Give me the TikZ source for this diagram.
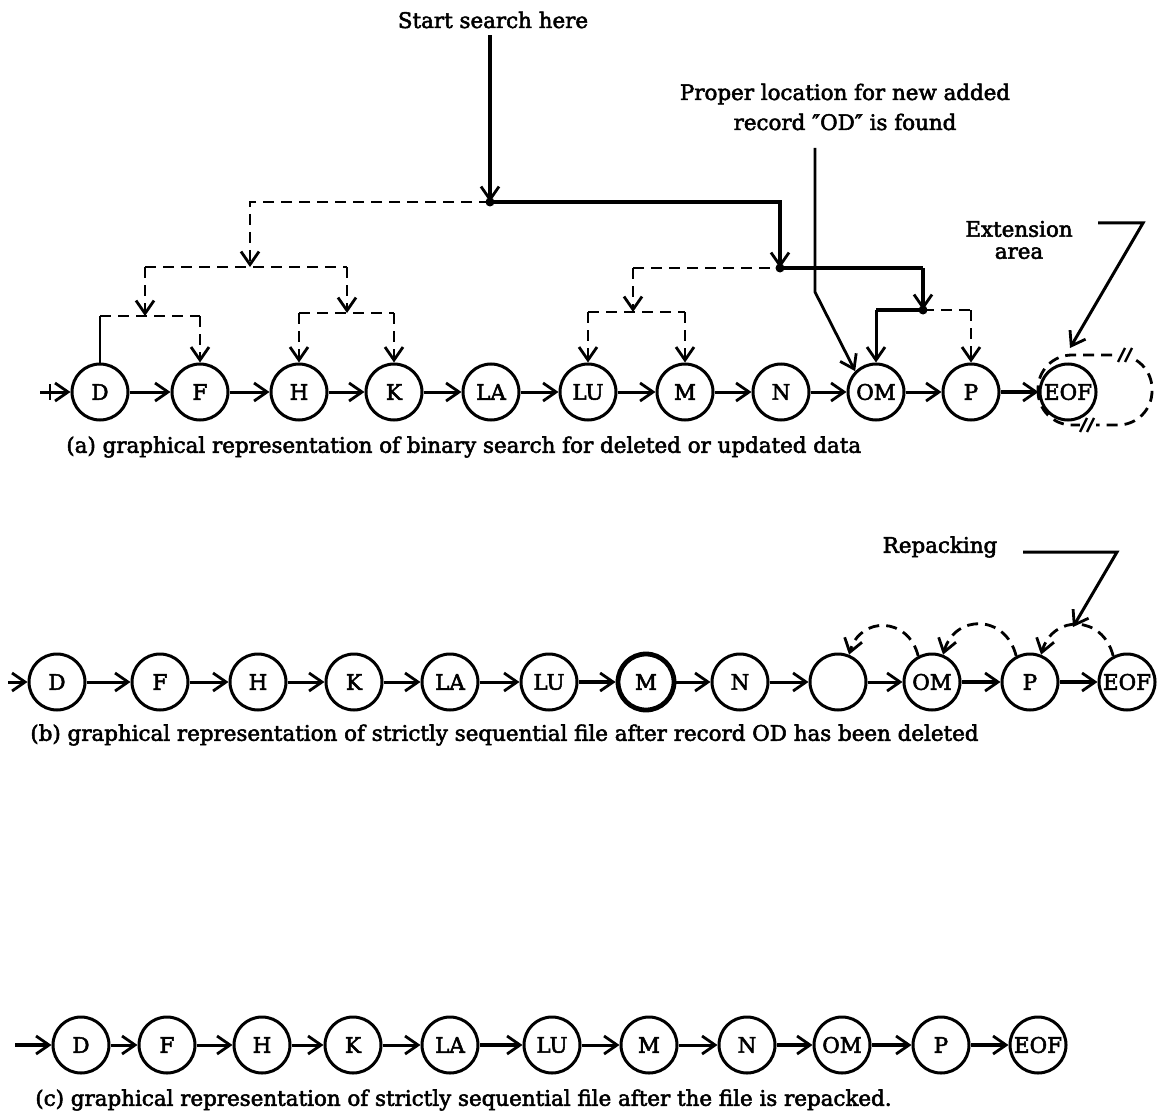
\documentclass[tikz,border=0pt]{standalone}
\usepackage{fontspec}
\setmainfont{DejaVu Serif}[BoldFont={DejaVu Serif},BoldFeatures={FakeBold=2.5}]
\usetikzlibrary{arrows.meta}
\begin{document}
\begin{tikzpicture}[x=0.5pt,y=0.5pt,
  font=\fontsize{10.7}{13}\selectfont\bfseries,
  rec/.style={circle,draw,line width=1.5pt,minimum size=28pt,inner sep=0pt},
  tip/.style={-{Straight Barb[length=6.5pt,width=9pt,line width=1.4pt]}},
  link/.style={tip,line width=1.5pt},
  heavy/.style={link,line width=2.3pt},
  dsh/.style={line width=1.4pt,dash pattern=on 5.5pt off 3.5pt},
  route/.style={line width=2pt},
  blob/.style={circle,fill,inner sep=0pt,minimum size=4.5pt},
  captext/.style={anchor=west,inner sep=0pt},
]
\useasboundingbox (0,0) rectangle (1161,-1118);

% ---------- (a) binary search over the sequential file ----------
\foreach \n/\x in {D/100,F/200,H/299,K/394,LA/491,LU/588,M/685,N/781,OM/876,P/971,EOF/1068}
  \node[rec] (a\n) at (\x,-392) {\n};

\coordinate (aIn) at (40,-392);
\draw[link] (aIn) -- (aD);
\draw[line width=1pt] (50,-384) -- (50,-400);
\draw[link] (aD) -- (aF);
\draw[link] (aF) -- (aH);
\draw[link] (aH) -- (aK);
\draw[link] (aK) -- (aLA);
\draw[link] (aLA) -- (aLU);
\draw[link] (aLU) -- (aM);
\draw[link] (aM) -- (aN);
\draw[link] (aN) -- (aOM);
\draw[link] (aOM) -- (aP);
\draw[heavy] (aP) -- (aEOF);

% search tree
\node (start) at (493,-20) {Start search here};
\coordinate (root) at (490,-202);
\coordinate (l1a) at (250,-267);
\coordinate (l1b) at (780,-268);
\coordinate (l2a) at (145,-316);
\coordinate (l2b) at (347,-313);
\coordinate (l2c) at (633,-312);
\coordinate (l2d) at (923,-310);

\draw[route,tip] (start.south -| root) -- (root);
\draw[dsh,tip] (root) -| (l1a);
\draw[route,tip] (root) -| (l1b);

\draw[dsh] (l1a -| l2a) -- (l1a -| l2b);
\draw[dsh,tip] (l1a -| l2a) -- (l2a);
\draw[dsh,tip] (l1a -| l2b) -- (l2b);

\draw[dsh] (l2a -| aD) -- (l2a -| aF);
\draw[line width=1.4pt] (l2a -| aD) -- (aD);
\draw[dsh,tip] (l2a -| aF) -- (aF);

\draw[dsh] (l2b -| aH) -- (l2b -| aK);
\draw[dsh,tip] (l2b -| aH) -- (aH);
\draw[dsh,tip] (l2b -| aK) -- (aK);

\draw[dsh] (l1b -| l2c) -- (l1b);
\draw[route] (l1b) -- (l1b -| l2d);
\draw[dsh,tip] (l1b -| l2c) -- (l2c);
\draw[route,tip] (l1b -| l2d) -- (l2d);

\draw[dsh] (l2c -| aLU) -- (l2c -| aM);
\draw[dsh,tip] (l2c -| aLU) -- (aLU);
\draw[dsh,tip] (l2c -| aM) -- (aM);

\draw[route] (l2d -| aOM) -- (l2d);
\draw[dsh] (l2d) -- (l2d -| aP);
\draw[link] (l2d -| aOM) -- (aOM);
\draw[dsh,tip] (l2d -| aP) -- (aP);

\node[blob] at (root) {};
\node[blob] at (l1b) {};
\node[blob] at (l2d) {};

% pointer to the place of the new record
\node[align=center] (found) at (845,-107) {Proper location for new added\\[2pt] record {\symbol{"2033}OD\symbol{"2033}} is found};
\coordinate (f0) at (815,-148);
\coordinate (f1) at (815,-292);
\draw[line width=1.4pt,tip] (f0) -- (f1) -- (aOM.north west);

% extension area behind EOF
\node[align=center] (ext) at (1019,-240) {Extension\\[-2pt]area};
\coordinate (e0) at (1098,-223);
\coordinate (e1) at (1143,-223);
\coordinate (e2) at (1070,-348);
\draw[line width=1.5pt,tip] (e0) -- (e1) -- (e2);
\draw[dsh,rounded corners=17pt] (1038,-355) rectangle (1152,-425);
\fill[white] (1118,-351) rectangle (1134,-359);
\fill[white] (1080,-421) rectangle (1096,-429);
\draw[line width=1.2pt] (1118,-362) -- (1125,-348) (1125,-362) -- (1132,-348);
\draw[line width=1.2pt] (1080,-432) -- (1087,-418) (1087,-432) -- (1094,-418);

\node[captext] (capA) at (66,-447) {(a) graphical representation of binary search for deleted or updated data};

% ---------- (b) after deletion of record OD ----------
\foreach \n/\t/\x in {D/D/57,F/F/160,H/H/258,K/K/354,LA/LA/450,LU/LU/549,N/N/740,E//838,OM/OM/932,P/P/1030,EOF/EOF/1127}
  \node[rec] (b\n) at (\x,-682) {\t};
\node[rec,line width=2.4pt] (bM) at (646,-682) {M};

\coordinate (bIn) at (8,-682);
\draw[link] (bIn) -- (bD);
\draw[link] (bD) -- (bF);
\draw[link] (bF) -- (bH);
\draw[link] (bH) -- (bK);
\draw[link] (bK) -- (bLA);
\draw[link] (bLA) -- (bLU);
\draw[heavy] (bLU) -- (bM);
\draw[link] (bM) -- (bN);
\draw[link] (bN) -- (bE);
\draw[link] (bE) -- (bOM);
\draw[heavy] (bOM) -- (bP);
\draw[heavy] (bP) -- (bEOF);

\draw[dsh,tip] (bOM.118) to[bend right=75,looseness=1.5] (bE.68);
\draw[dsh,tip] (bP.118) to[bend right=75,looseness=1.5] (bOM.68);
\draw[dsh,tip] (bEOF.118) to[bend right=75,looseness=1.5] (bP.68);

\node (rep) at (940,-547) {Repacking};
\coordinate (r0) at (1023,-552);
\coordinate (r1) at (1117,-552);
\coordinate (r2) at (1073,-627);
\draw[line width=1.5pt,tip] (r0) -- (r1) -- (r2);

\node[captext] (capB) at (30,-735) {(b) graphical representation of strictly sequential file after record OD has been deleted};

% ---------- (c) after repacking ----------
\foreach \n/\x in {D/81,F/167,H/262,K/353,LA/450,LU/552,M/649,N/747,OM/842,P/941,EOF/1038}
  \node[rec] (c\n) at (\x,-1045) {\n};

\coordinate (cIn) at (15,-1045);
\draw[heavy] (cIn) -- (cD);
\draw[link] (cD) -- (cF);
\draw[link] (cF) -- (cH);
\draw[link] (cH) -- (cK);
\draw[link] (cK) -- (cLA);
\draw[heavy] (cLA) -- (cLU);
\draw[link] (cLU) -- (cM);
\draw[link] (cM) -- (cN);
\draw[heavy] (cN) -- (cOM);
\draw[heavy] (cOM) -- (cP);
\draw[heavy] (cP) -- (cEOF);

\node[captext] (capC) at (35,-1100) {(c) graphical representation of strictly sequential file after the file is repacked.};
\end{tikzpicture}
\end{document}
